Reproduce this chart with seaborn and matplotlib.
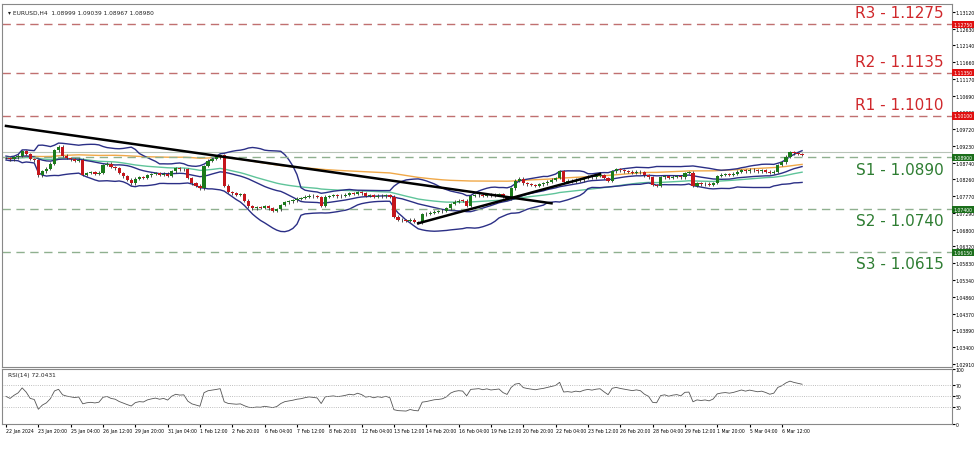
import numpy as np
import pandas as pd
import matplotlib
matplotlib.use("Agg")
import matplotlib.pyplot as plt
import seaborn as sns

# 4H closes
closes = [
    1.0888, 1.0884, 1.0890, 1.0895, 1.0908, 1.0900, 1.0885, 1.0882, 1.0838, 1.0850,
    1.0857, 1.0872, 1.0910, 1.0921, 1.0895, 1.0888, 1.0884, 1.0880, 1.0883, 1.0840,
    1.0845, 1.0847, 1.0843, 1.0846, 1.0868, 1.0872, 1.0862, 1.0858, 1.0845, 1.0835,
    1.0825, 1.0815, 1.0828, 1.0832, 1.0830, 1.0838, 1.0842, 1.0845, 1.0840, 1.0843,
    1.0836, 1.0850, 1.0858, 1.0855, 1.0856, 1.0830, 1.0815, 1.0808, 1.0800, 1.0865,
    1.0880, 1.0885, 1.0890, 1.0896, 1.0808, 1.0790, 1.0786, 1.0782, 1.0784, 1.0765,
    1.0748, 1.0743, 1.0746, 1.0744, 1.0748, 1.0742, 1.0736, 1.0740, 1.0752, 1.0760,
    1.0763, 1.0766, 1.0770, 1.0772, 1.0776, 1.0779, 1.0777, 1.0775, 1.0750, 1.0776,
    1.0778, 1.0780, 1.0777, 1.0779, 1.0782, 1.0786, 1.0784, 1.0790, 1.0786, 1.0778,
    1.0780, 1.0776, 1.0779, 1.0777, 1.0780, 1.0776, 1.0718, 1.0710, 1.0708, 1.0706,
    1.0710, 1.0703, 1.0700, 1.0725, 1.0727, 1.0730, 1.0733, 1.0734, 1.0736, 1.0742,
    1.0755, 1.0762, 1.0765, 1.0764, 1.0750, 1.0778, 1.0780, 1.0782, 1.0779, 1.0783,
    1.0780, 1.0782, 1.0784, 1.0775, 1.0770, 1.0800, 1.0822, 1.0828, 1.0815, 1.0812,
    1.0810, 1.0808, 1.0812, 1.0815, 1.0820, 1.0825, 1.0830, 1.0850, 1.0820, 1.0822,
    1.0820, 1.0825, 1.0823, 1.0830, 1.0834, 1.0832, 1.0836, 1.0838, 1.0830, 1.0822,
    1.0850, 1.0855, 1.0852, 1.0850, 1.0848, 1.0846, 1.0849, 1.0847, 1.0838, 1.0832,
    1.0810, 1.0808, 1.0832, 1.0835, 1.0830, 1.0834, 1.0836, 1.0832, 1.0845, 1.0846,
    1.0808, 1.0815, 1.0812, 1.0814, 1.0810, 1.0816, 1.0836, 1.0840, 1.0842, 1.0840,
    1.0843, 1.0848, 1.0853, 1.0850, 1.0854, 1.0852, 1.0850, 1.0852, 1.0849, 1.0845,
    1.0848, 1.0868, 1.0876, 1.0892, 1.0905, 1.0902, 1.0900, 1.0898,
]
date_labels = ["22 Jan 2024", "23 Jan 20:00", "25 Jan 04:00", "26 Jan 12:00", "29 Jan 20:00",
               "31 Jan 04:00", "1 Feb 12:00", "2 Feb 20:00", "6 Feb 04:00", "7 Feb 12:00",
               "8 Feb 20:00", "12 Feb 04:00", "13 Feb 12:00", "14 Feb 20:00", "16 Feb 04:00",
               "19 Feb 12:00", "20 Feb 20:00", "22 Feb 04:00", "23 Feb 12:00", "26 Feb 20:00",
               "28 Feb 04:00", "29 Feb 12:00", "1 Mar 20:00", "5 Mar 04:00", "6 Mar 12:00"]
res_names = ["R3", "R2", "R1"]
res_levels = [1.1275, 1.1135, 1.1010]
sup_names = ["S1", "S2", "S3"]
sup_levels = [1.0890, 1.0740, 1.0615]
price_ticks = [1.13120, 1.12630, 1.12140, 1.11660, 1.11170, 1.10690, 1.10200, 1.09720,
               1.09230, 1.08740, 1.08260, 1.07770, 1.07290, 1.06800, 1.06320, 1.05830,
               1.05340, 1.04860, 1.04370, 1.03890, 1.03400, 1.02910]
down_trend = [(0, 1.0981), (135, 1.0757)]
up_trend = [(102, 1.0699), (147, 1.0842)]

df = pd.DataFrame({"close": closes})
df["i"] = np.arange(len(df))
df["open"] = df["close"].shift(1).fillna(df["close"].iloc[0])
df["high"] = df[["open", "close"]].max(axis=1) + 0.0004
df["low"] = df[["open", "close"]].min(axis=1) - 0.0004
mid = df["close"].rolling(20, min_periods=1).mean()
sd = df["close"].rolling(20, min_periods=2).std().bfill()
df["mid"], df["up"], df["dn"] = mid, mid + 2 * sd, mid - 2 * sd
df["ema50"] = df["close"].ewm(span=50, adjust=False).mean()
df["ema100"] = (df["close"] + 0.004).ewm(span=100, adjust=False).mean() - 0.004 * np.exp(-df["i"] / 60)
d = df["close"].diff().fillna(0)
g = d.clip(lower=0).ewm(alpha=1 / 14, adjust=False).mean() + 0.0002 * np.exp(-df["i"] / 10)
l = (-d.clip(upper=0)).ewm(alpha=1 / 14, adjust=False).mean() + 0.0002 * np.exp(-df["i"] / 10)
df["rsi"] = 100 - 100 / (1 + g / l)

fig = plt.figure(figsize=(9.75, 4.56), dpi=100)
ax = fig.add_axes([0.002, 0.193, 0.974, 0.796])
ax2 = fig.add_axes([0.002, 0.068, 0.974, 0.121])
xmax = 234
ax.set_xlim(-1, xmax)
ax.set_ylim(1.0283, 1.1334)

navy = "#2b2f86"
sns.lineplot(data=df, x="i", y="ema100", ax=ax, color="#f0a848", lw=1)
sns.lineplot(data=df, x="i", y="ema50", ax=ax, color="#5fc49a", lw=1)
for c in ["up", "mid", "dn"]:
    sns.lineplot(data=df, x="i", y=c, ax=ax, color=navy, lw=1)

up = df["close"] >= df["open"]
ax.vlines(df["i"], df["low"], df["high"], color="#333333", lw=0.6, zorder=3)
ax.bar(df["i"], (df["close"] - df["open"]).abs().clip(lower=0.00015),
       bottom=df[["open", "close"]].min(axis=1), width=0.8,
       color=np.where(up, "#1b7a1b", "#c4161c"), zorder=4)

for tl in (down_trend, up_trend):
    ax.plot([tl[0][0], tl[1][0]], [tl[0][1], tl[1][1]], color="black", lw=1.8, zorder=5)

ax.axhline(closes[-1] + 0.0007, color="#b8c4b8", lw=0.8, zorder=1)
for n, v in zip(res_names, res_levels):
    ax.axhline(v, color="#c07070", ls=(0, (6, 4)), lw=1)
    ax.text(232, v + 0.0012, f"{n} - {v:.4f}", color="#d0282c", fontsize=11, ha="right", va="bottom")
for n, v in zip(sup_names, sup_levels):
    ax.text(232, v - 0.0012, f"{n} - {v:.4f}", color="#2e7d32", fontsize=11, ha="right", va="top")
    ax.axhline(v, color="#8fb08f", ls=(0, (6, 4)), lw=1)

ax.yaxis.tick_right()
ax.set_yticks(price_ticks)
ax.set_yticklabels([f"{t:.5f}" for t in price_ticks], fontsize=3.3)
ax.tick_params(axis="y", length=2, pad=1)
ax.set_xticks([])
ax.set_xlabel("")
ax.set_ylabel("")
for n, v in zip(res_names, res_levels):
    ax.text(1.002, v, f"{v:.5f}", transform=ax.get_yaxis_transform(), fontsize=3.3, color="white",
            va="center", bbox=dict(boxstyle="square,pad=0.25", fc="#e01010", ec="none"))
for n, v in zip(sup_names, sup_levels):
    ax.text(1.002, v, f"{v:.5f}", transform=ax.get_yaxis_transform(), fontsize=3.3, color="white",
            va="center", bbox=dict(boxstyle="square,pad=0.25", fc="#1b6e1b", ec="none"))
ax.text(0.006, 0.985, "▾ EURUSD,H4  1.08999 1.09039 1.08967 1.08980", transform=ax.transAxes,
        fontsize=4.2, va="top", color="#222222")

sns.lineplot(data=df, x="i", y="rsi", ax=ax2, color="#555555", lw=0.6)
ax2.set_xlim(-1, xmax)
ax2.set_ylim(0, 100)
for lv in (70, 50, 30):
    ax2.axhline(lv, color="#aaaaaa", ls=":", lw=0.6)
ax2.yaxis.tick_right()
ax2.set_yticks([0, 30, 50, 70, 100])
ax2.set_yticklabels(["0", "30", "50", "70", "100"], fontsize=3.3)
ax2.tick_params(axis="y", length=2, pad=1)
ax2.set_xticks(np.arange(len(date_labels)) * 8)
ax2.set_xticklabels(date_labels, fontsize=3.3, ha="left")
ax2.tick_params(axis="x", length=2, pad=1)
ax2.set_xlabel("")
ax2.set_ylabel("")
ax2.text(0.006, 0.95, f"RSI(14) {df['rsi'].iloc[-1]:.4f}", transform=ax2.transAxes,
         fontsize=4.2, va="top", color="#222222")
for a in (ax, ax2):
    for s in a.spines.values():
        s.set_color("#888888")
        s.set_linewidth(0.8)

fig.savefig("out.png", dpi=100)
